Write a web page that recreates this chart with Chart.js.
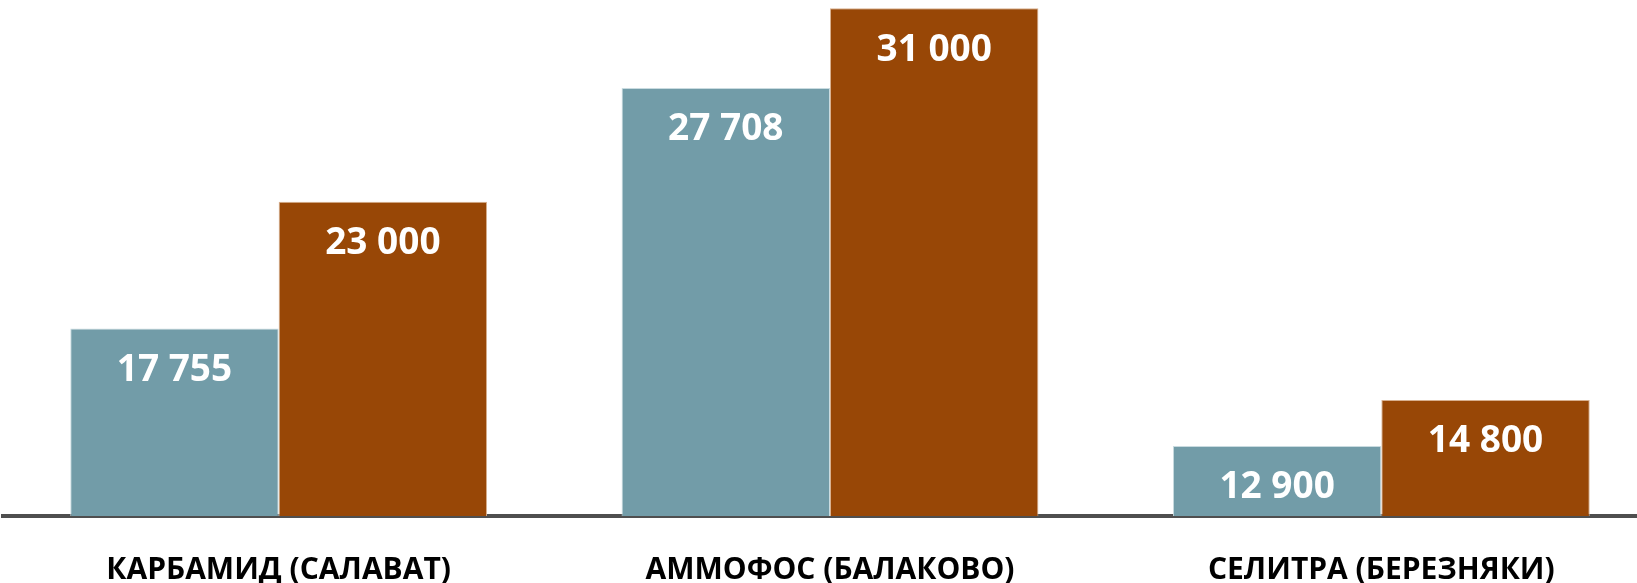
<!DOCTYPE html>
<html>
<head>
<meta charset="utf-8">
<script src="https://cdn.jsdelivr.net/npm/chart.js@4"></script>
<style>
    html, body { margin: 0; padding: 0; background: #ffffff; overflow: hidden; }
    #wrap { width: 1637px; height: 583px; overflow: hidden; }
</style>
</head>
<body>
<div id="wrap"><canvas id="chart" width="1657" height="583"></canvas></div>
<script>
// данные
const categories = ['КАРБАМИД (САЛАВАТ)', 'АММОФОС (БАЛАКОВО)', 'СЕЛИТРА (БЕРЕЗНЯКИ)'];
const seriesA = [17755, 27708, 12900];
const seriesB = [23000, 31000, 14800];

// подписи значений внутри столбцов
const valueLabels = {
    id: 'valueLabels',
    afterDatasetsDraw(chart) {
        const ctx = chart.ctx;
        ctx.save();
        ctx.font = 'bold 37px "Open Sans"';
        ctx.fillStyle = '#ffffff';
        ctx.textAlign = 'center';
        ctx.textBaseline = 'middle';
        chart.data.datasets.forEach((ds, i) => {
            chart.getDatasetMeta(i).data.forEach((bar, j) => {
                const txt = String(ds.data[j]).replace(/\B(?=(\d{3})+(?!\d))/g, ' ');
                ctx.fillText(txt, bar.x, bar.y + 42);
            });
        });
        ctx.restore();
    }
};

new Chart(document.getElementById('chart').getContext('2d'), {
    type: 'bar',
    data: {
        labels: categories,
        datasets: [
            {
                data: seriesA,
                backgroundColor: '#729ca8',
                borderColor: '#c9dbe0',
                borderWidth: 1,
                borderSkipped: 'bottom'
            },
            {
                data: seriesB,
                backgroundColor: '#984706',
                borderColor: '#d8b08f',
                borderWidth: 1,
                borderSkipped: 'bottom'
            }
        ]
    },
    options: {
        responsive: false,
        animation: false,
        events: [],
        layout: { padding: { left: 3, right: 0, top: 0, bottom: 0 } },
        datasets: {
            bar: { categoryPercentage: 0.756, barPercentage: 1.0 }
        },
        plugins: {
            legend: { display: false },
            tooltip: { enabled: false }
        },
        scales: {
            x: {
                z: 1,
                grid: { display: false, drawTicks: false },
                border: { display: true, color: '#4f4f4f', width: 4 },
                ticks: {
                    color: '#000000',
                    padding: 36,
                    font: { family: '"Open Sans"', size: 30, weight: 'bold' }
                },
                afterFit(scale) { scale.height = 67; }
            },
            y: {
                display: false,
                min: 10000,
                max: 31343
            }
        }
    },
    plugins: [valueLabels]
});
</script>
</body>
</html>
